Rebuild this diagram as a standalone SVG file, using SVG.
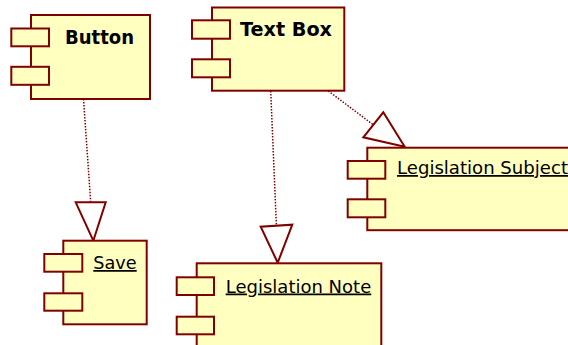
<svg xmlns="http://www.w3.org/2000/svg" width="568" height="345" viewBox="0 0 568 345">
<style>
.box{fill:#ffffc0;stroke:#800000;stroke-width:2}
.title{font-family:"DejaVu Sans",Verdana,sans-serif;font-weight:bold;font-size:19px;fill:#000}
.name{font-family:"DejaVu Sans",Verdana,sans-serif;font-size:17.5px;fill:#000;text-decoration:underline}
.dep{fill:none;stroke:#800000;stroke-width:1.5;stroke-dasharray:1.5 1.5}
.head{fill:#fff;stroke:#800000;stroke-width:2;stroke-linejoin:miter}
</style>
<rect width="568" height="345" fill="#fff"/>
<g id="connectors">
<line class="dep" x1="83.5" y1="99" x2="90.7" y2="202"/>
<polygon class="head" points="93.3,240.7 75.7,202.3 105.7,202.3"/>
<line class="dep" x1="270.7" y1="91" x2="276.4" y2="225.7"/>
<polygon class="head" points="277.7,262.7 260.7,226.7 292.3,224.7"/>
<line class="dep" x1="328.3" y1="91" x2="373.3" y2="124.8"/>
<polygon class="head" points="404.7,146.7 383.3,112.3 363.3,137.3"/>
</g>
<g id="button">
<rect class="box" x="31" y="15" width="119" height="84"/>
<rect class="box" x="11.3" y="28.5" width="37.7" height="17.8"/>
<rect class="box" x="11.3" y="66.8" width="37.7" height="18"/>
<text class="title" x="65" y="44.3" textLength="69" lengthAdjust="spacingAndGlyphs">Button</text>
</g>
<g id="textbox">
<rect class="box" x="212" y="7.5" width="132.3" height="83.2"/>
<rect class="box" x="192" y="20.3" width="38" height="18.4"/>
<rect class="box" x="192" y="59.3" width="38" height="18"/>
<text class="title" x="240" y="35.5" textLength="92" lengthAdjust="spacingAndGlyphs">Text Box</text>
</g>
<g id="legislation-subject">
<rect class="box" x="367.3" y="147.7" width="220" height="82.5"/>
<rect class="box" x="347.7" y="161" width="37.6" height="17.7"/>
<rect class="box" x="347.7" y="199.3" width="37.6" height="18"/>
<text class="name" x="397" y="174" textLength="171" lengthAdjust="spacingAndGlyphs">Legislation Subject</text>
</g>
<g id="save">
<rect class="box" x="63.3" y="240.7" width="83.4" height="83.6"/>
<rect class="box" x="44.3" y="254" width="38" height="17.7"/>
<rect class="box" x="44.3" y="293.3" width="38" height="17.4"/>
<text class="name" x="93.3" y="269" textLength="43.4" lengthAdjust="spacingAndGlyphs">Save</text>
</g>
<g id="legislation-note">
<rect class="box" x="196.7" y="263.3" width="184.6" height="100"/>
<rect class="box" x="176.7" y="277.3" width="37.3" height="17.7"/>
<rect class="box" x="176.7" y="316.7" width="37.3" height="17.6"/>
<text class="name" x="225.7" y="292.5" textLength="145.6" lengthAdjust="spacingAndGlyphs">Legislation Note</text>
</g>
</svg>
